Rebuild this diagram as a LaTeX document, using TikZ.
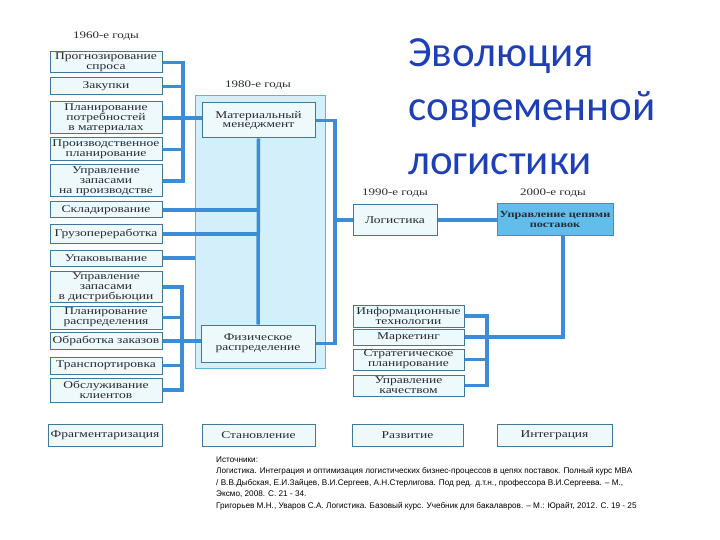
\documentclass[tikz,border=0pt]{standalone}
\usepackage{fontspec}
\setmainfont{Liberation Serif}[FakeStretch=1.3]
\newfontfamily\titlefont{Carlito}
\newfontfamily\notefont{Liberation Sans}
\usepackage{xcolor}
\usetikzlibrary{positioning}
\definecolor{linkblue}{HTML}{3A8DD6}
\definecolor{boxedge}{HTML}{40789C}
\definecolor{boxfill}{HTML}{EEF9FC}
\definecolor{boxtext}{HTML}{2A2A34}
\definecolor{panelfill}{HTML}{D3F0FA}
\definecolor{paneledge}{HTML}{5DB3DB}
\definecolor{scmfill}{HTML}{62BDEB}
\definecolor{titleblue}{HTML}{1E3FB8}

\begin{document}
\begin{tikzpicture}[x=1pt, y=-1pt, font=\fontsize{10.4}{9.8}\selectfont,
  stage/.style={draw=boxedge, fill=boxfill, line width=1pt, text=boxtext, align=center, inner sep=1pt},
  link/.style={linkblue, line width=3.5pt},
  era/.style={font=\fontsize{10}{10}\selectfont, text=boxtext}]
  \useasboundingbox (0,0) rectangle (720,540);
  % 1980s panel
  \node[draw=paneledge, fill=panelfill, line width=0.8pt, minimum width=130pt, minimum height=273pt] (panel) at (260,231.5) {};
  % left column
  \node[stage, minimum width=112pt, minimum height=21pt] (prognoz) at (106,62.5) {Прогнозирование\\спроса};
  \node[stage, minimum width=112pt, minimum height=17pt] (zakup) at (106,86.5) {Закупки};
  \node[stage, minimum width=112pt, minimum height=32pt] (planmat) at (106,118) {Планирование\\потребностей\\в материалах};
  \node[stage, minimum width=112pt, minimum height=23pt] (proizv) at (106,149.5) {Производственное\\планирование};
  \node[stage, minimum width=112pt, minimum height=32pt] (zapprod) at (106,181) {Управление\\запасами\\на производстве};
  \node[stage, minimum width=112pt, minimum height=16pt] (sklad) at (106,210) {Складирование};
  \node[stage, minimum width=112pt, minimum height=18pt] (gruz) at (106,234) {Грузопереработка};
  \node[stage, minimum width=112pt, minimum height=16pt] (upak) at (106,258) {Упаковывание};
  \node[stage, minimum width=112pt, minimum height=30pt] (zapdist) at (106,287) {Управление\\запасами\\в дистрибьюции};
  \node[stage, minimum width=112pt, minimum height=23pt] (planras) at (106,317.5) {Планирование\\распределения};
  \node[stage, minimum width=112pt, minimum height=17pt] (zakaz) at (106,341) {Обработка заказов};
  \node[stage, minimum width=112pt, minimum height=17pt] (transp) at (106,365.5) {Транспортировка};
  \node[stage, minimum width=112pt, minimum height=24pt] (klient) at (106,390) {Обслуживание\\клиентов};
  % middle and right
  \node[stage, minimum width=113pt, minimum height=35pt] (mat) at (258.5,120.5) {Материальный\\менеджмент};
  \node[stage, minimum width=114pt, minimum height=37pt] (fiz) at (258,343.5) {Физическое\\распределение};
  \node[stage, minimum width=84pt, minimum height=30pt] (logist) at (395,220) {Логистика};
  \node[stage, fill=scmfill, draw=linkblue, minimum width=116pt, minimum height=31pt, font=\bfseries\fontsize{9.4}{9.8}\selectfont] (scm) at (555,219.5) {Управление цепями\\поставок};
  \node[stage, minimum width=111pt, minimum height=22pt] (infotech) at (408.5,316) {Информационные\\технологии};
  \node[stage, minimum width=111pt, minimum height=16pt] (marketing) at (408.5,337) {Маркетинг};
  \node[stage, minimum width=111pt, minimum height=21pt] (strat) at (408.5,359.5) {Стратегическое\\планирование};
  \node[stage, minimum width=111pt, minimum height=21pt] (quality) at (408.5,385.5) {Управление\\качеством};
  % stages
  \node[stage, minimum width=114pt, minimum height=22pt] (frag) at (105,435) {Фрагментаризация};
  \node[stage, minimum width=113pt, minimum height=22pt] (stanov) at (258.5,435) {Становление};
  \node[stage, minimum width=111pt, minimum height=22pt] (razv) at (407.5,435) {Развитие};
  \node[stage, minimum width=115pt, minimum height=22pt] (integ) at (554.5,435) {Интеграция};
  % years
  \node[era] (y1960) at (106,36) {1960-е годы};
  \node[era] (y1980) at (258,85) {1980-е годы};
  \node[era] (y1990) at (395,193) {1990-е годы};
  \node[era] (y2000) at (553,193) {2000-е годы};
  % links
  \coordinate (busA) at (183,0);
  \coordinate (busB) at (182,0);
  \coordinate (busC) at (335,0);
  \coordinate (busD) at (487,0);
  \coordinate (scmdrop) at (563,0);
  \draw[link] (prognoz.east) -- (prognoz.east -| busA) -- (zapprod.east -| busA) -- (zapprod.east);
  \foreach \n in {zakup, proizv} \draw[link] (\n.east) -- (\n.east -| busA);
  \draw[link] (planmat.east) -- (planmat.east -| mat.west);
  \draw[link] (sklad.east) -- (sklad.east -| mat.south);
  \draw[link] (gruz.east) -- (gruz.east -| mat.south);
  \draw[link] (upak.east) -- (upak.east -| panel.west);
  \draw[link] (zapdist.east) -- (zapdist.east -| busB) -- (klient.east -| busB) -- (klient.east);
  \foreach \n in {planras, transp} \draw[link] (\n.east) -- (\n.east -| busB);
  \draw[link] (zakaz.east) -- (zakaz.east -| fiz.west);
  \draw[link] (mat.south) -- (fiz.north);
  \draw[link] (mat.east) -- (mat.east -| busC) -- (fiz.east -| busC) -- (fiz.east);
  \draw[link] (logist.west -| busC) -- (logist.west);
  \draw[link] (logist.east) -- (logist.east -| scm.west);
  \draw[link] (infotech.east) -- (infotech.east -| busD) -- (quality.east -| busD) -- (quality.east);
  \foreach \n in {marketing, strat} \draw[link] (\n.east) -- (\n.east -| busD);
  \draw[link] (scm.south -| scmdrop) -- (marketing.east -| scmdrop) -- (marketing.east -| busD);
  % title
  \node[anchor=base west, inner sep=0pt, text=titleblue, font=\titlefont\fontsize{43}{50}\selectfont] (title1) at (408,67) {Эволюция};
  \node[anchor=base west, inner sep=0pt, text=titleblue, font=\titlefont\fontsize{43}{50}\selectfont] (title2) at (408,121) {современной};
  \node[anchor=base west, inner sep=0pt, text=titleblue, font=\titlefont\fontsize{43}{50}\selectfont] (title3) at (408,175) {логистики};
  % sources
  \node[anchor=base west, inner sep=0pt, font=\notefont\fontsize{8.2}{10}\selectfont] (src0) at (216,462) {Источники:};
  \node[anchor=base west, inner sep=0pt, font=\notefont\fontsize{8.2}{10}\selectfont] (src1) at (216,473.5) {Логистика. Интеграция и оптимизация логистических бизнес-процессов в цепях поставок. Полный курс MBA};
  \node[anchor=base west, inner sep=0pt, font=\notefont\fontsize{8.2}{10}\selectfont] (src2) at (216,485) {/ В.В.Дыбская, Е.И.Зайцев, В.И.Сергеев, А.Н.Стерлигова. Под ред. д.т.н., профессора В.И.Сергеева. – М.,};
  \node[anchor=base west, inner sep=0pt, font=\notefont\fontsize{8.2}{10}\selectfont] (src3) at (216,496.5) {Эксмо, 2008. С. 21 - 34.};
  \node[anchor=base west, inner sep=0pt, font=\notefont\fontsize{8.2}{10}\selectfont] (src4) at (216,508) {Григорьев М.Н., Уваров С.А. Логистика. Базовый курс. Учебник для бакалавров. – М.: Юрайт, 2012. С. 19 - 25};
\end{tikzpicture}
\end{document}
